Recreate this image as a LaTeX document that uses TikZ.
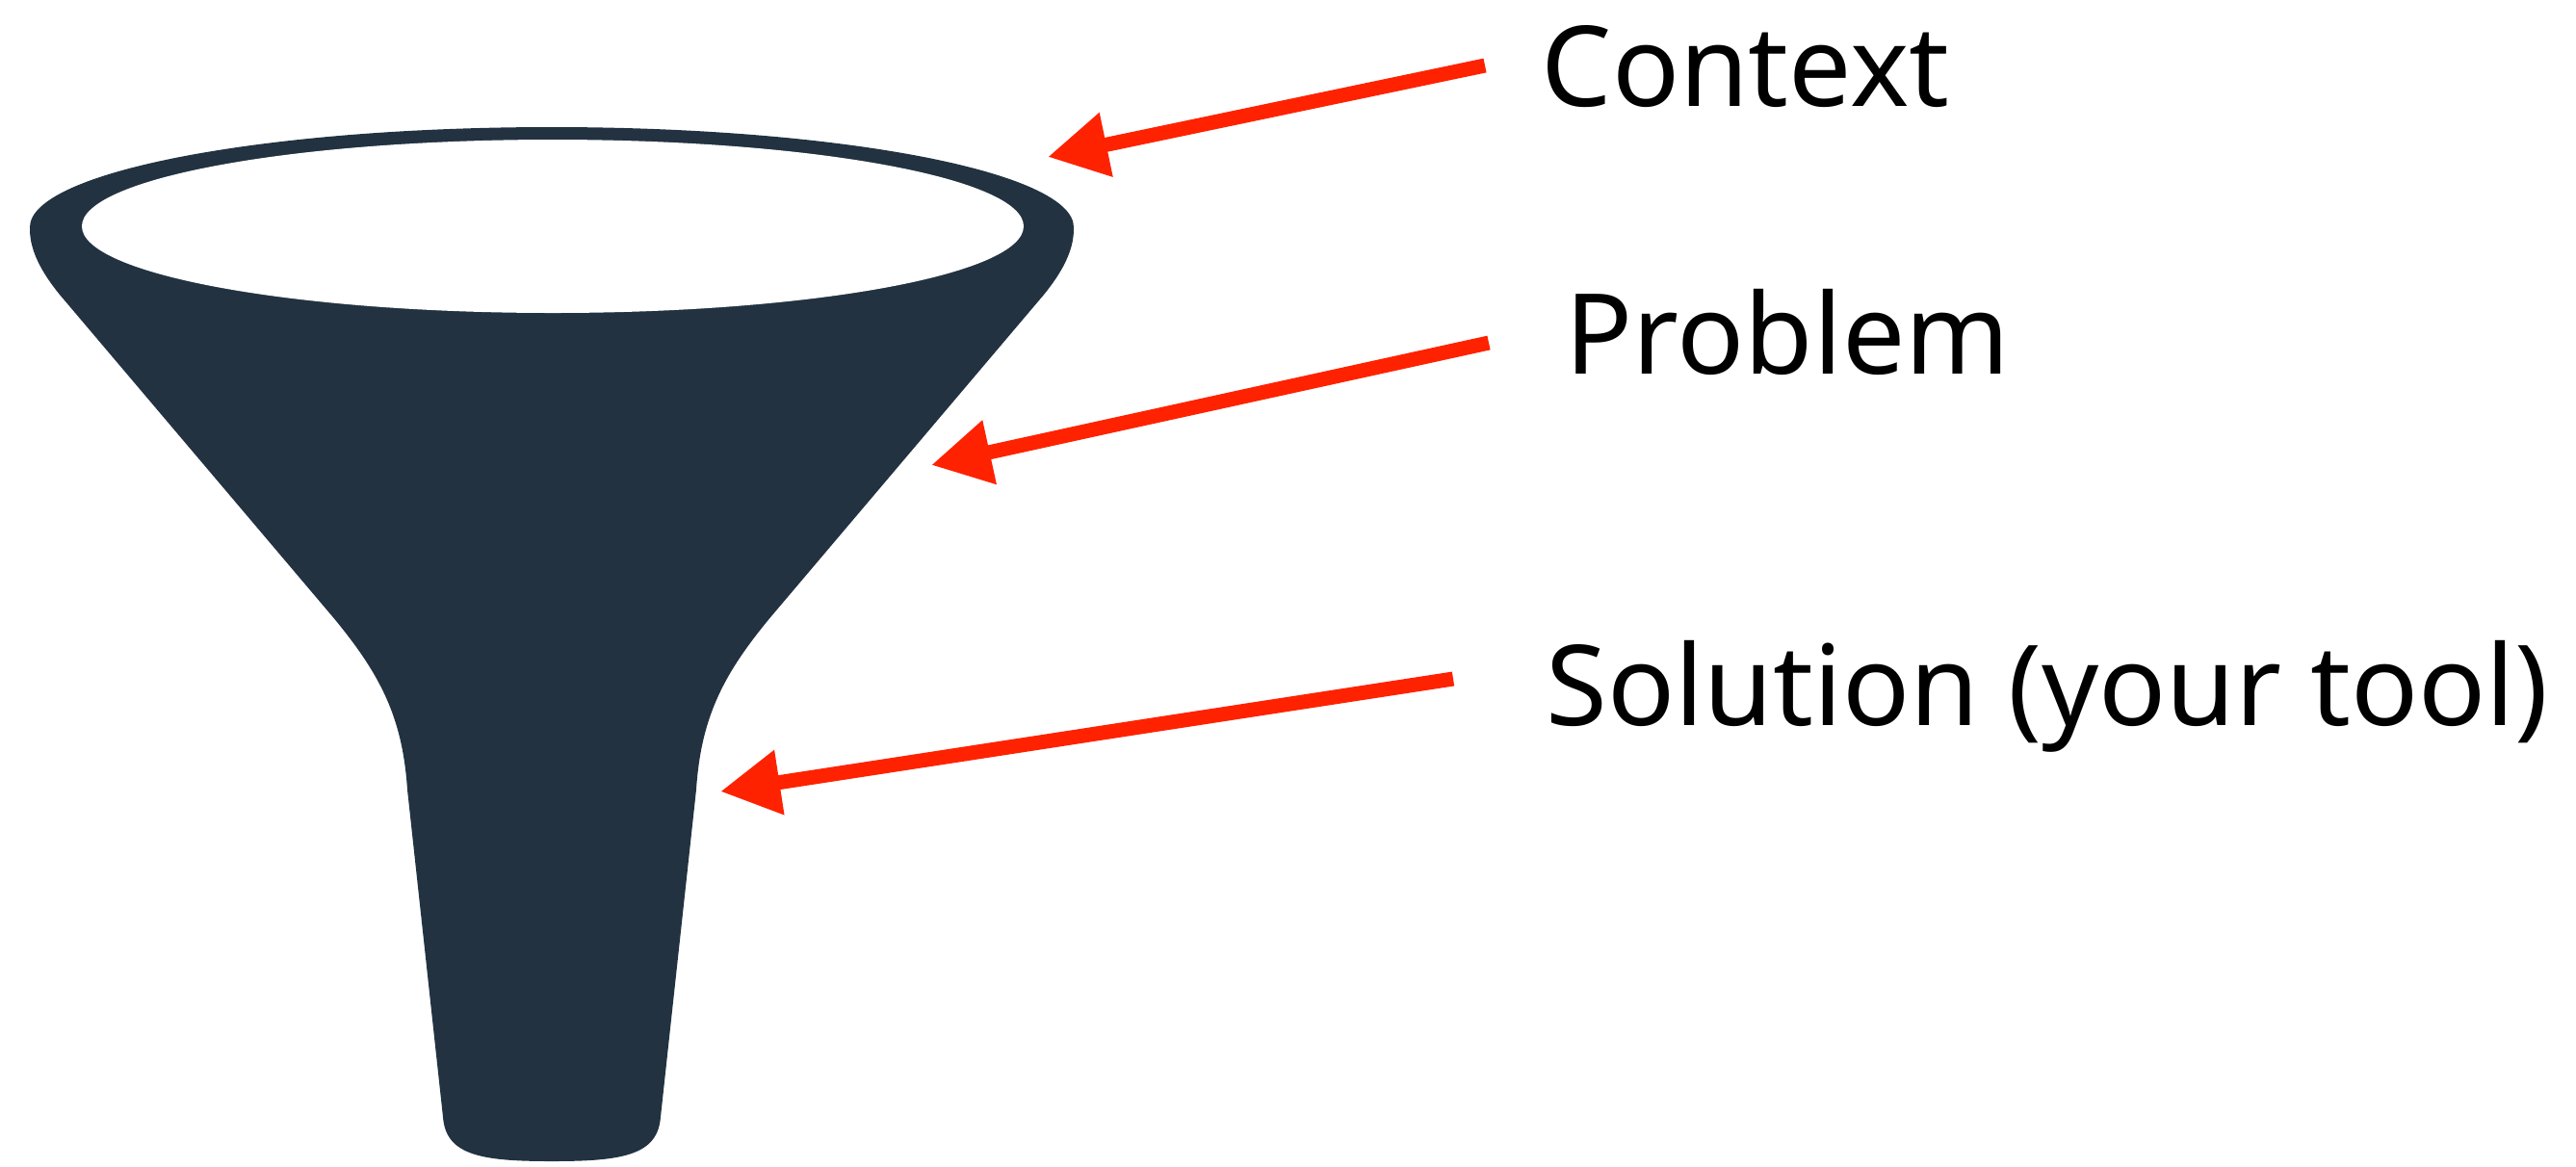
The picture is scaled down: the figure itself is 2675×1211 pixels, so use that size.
\documentclass[tikz,border=0pt]{standalone}
\usepackage{fontspec}
\setmainfont{Noto Sans}
\usepackage{tikz}
\usetikzlibrary{arrows.meta}
\definecolor{funnelblue}{RGB}{34,50,65}
\definecolor{arrowred}{RGB}{255,34,0}

\begin{document}
\begin{tikzpicture}[x=0.01cm,y=-0.01cm,
    pointer/.style={arrowred,line width=0.15cm,-{Triangle[length=0.62cm,width=0.64cm]}},
    lbl/.style={anchor=base west,inner sep=0pt,font=\fontsize{33}{40}\selectfont}]
\useasboundingbox (0,0) rectangle (2675,1211);
% funnel
\fill[funnelblue] (573,236) ellipse[x radius=542,y radius=104];
\fill[funnelblue] (31,238) .. controls (31,262) and (45,285) .. (62,306)
        -- (345,640) .. controls (395,700) and (418,745) .. (423,820)
        -- (460,1160) .. controls (463,1200) and (500,1206) .. (573,1206)
        .. controls (646,1206) and (683,1200) .. (686,1160)
        -- (723,820) .. controls (728,745) and (751,700) .. (801,640)
        -- (1084,306) .. controls (1101,285) and (1115,262) .. (1115,238) -- cycle;
\fill[white] (574,235) ellipse[x radius=489,y radius=90];
% labels
\node[lbl] (context) at (1600,110) {Context};
\node[lbl] (problem) at (1625,388) {Problem};
\node[lbl] (solution) at (1605,753) {Solution (your tool)};
\coordinate (ctxfrom) at (1542,68);
\coordinate (ctxto) at (1088,163);
\coordinate (probfrom) at (1546,356);
\coordinate (probto) at (967,483);
\coordinate (solfrom) at (1509,705);
\coordinate (solto) at (748,822);
\draw[pointer] (ctxfrom) -- (ctxto);
\draw[pointer] (probfrom) -- (probto);
\draw[pointer] (solfrom) -- (solto);
\end{tikzpicture}
\end{document}
